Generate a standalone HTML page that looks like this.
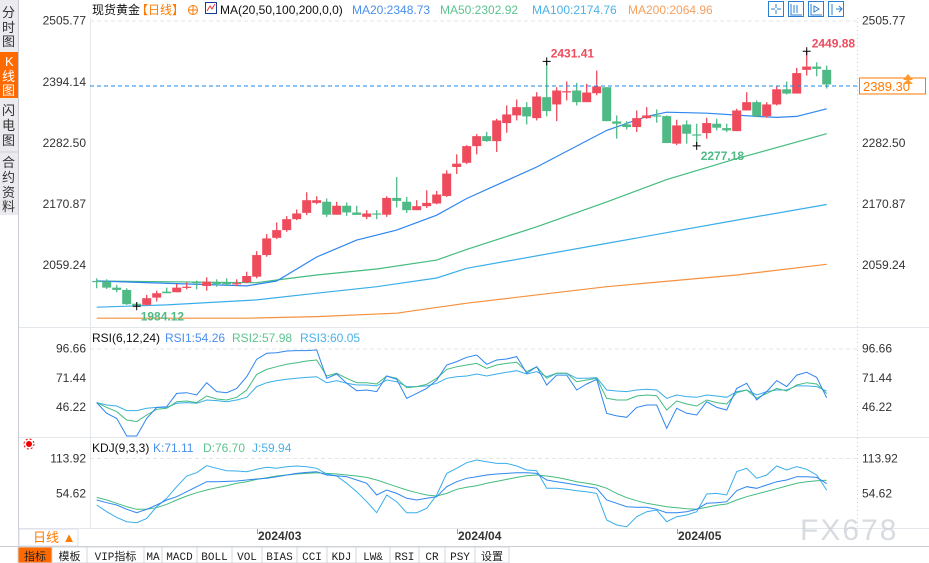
<!DOCTYPE html>
<html><head><meta charset="utf-8">
<style>
html,body{margin:0;padding:0;background:#fff;}
svg{display:block;font-family:"Liberation Sans","Noto Sans CJK SC",sans-serif;}
.ax{font-size:12px;fill:#333;}
.tb{font-family:"Liberation Mono","Noto Sans CJK SC",monospace;font-size:11px;fill:#222;}
</style></head>
<body>
<svg id="chart" width="929" height="563" viewBox="0 0 929 563" xmlns="http://www.w3.org/2000/svg">
  <g>
    <rect x="0" y="0" width="18" height="215" fill="#ebebef"/>
    <line x1="18.5" y1="0" x2="18.5" y2="546" stroke="#c8ccd2"/>
    <g font-size="13" fill="#333">
      <text x="2" y="17">分</text><text x="2" y="32">时</text><text x="2" y="46">图</text>
    </g>
    <rect x="0" y="52" width="18" height="46" fill="#ff6a00"/>
    <g font-size="13" fill="#fff"><text x="5" y="66">K</text><text x="2" y="81">线</text><text x="2" y="95">图</text></g>
    <g font-size="13" fill="#333">
      <text x="2" y="115">闪</text><text x="2" y="130">电</text><text x="2" y="145">图</text>
    </g>
    <line x1="0" y1="152" x2="18" y2="152" stroke="#d0d0d6"/>
    <g font-size="13" fill="#333">
      <text x="2" y="167">合</text><text x="2" y="182">约</text><text x="2" y="197">资</text><text x="2" y="211">料</text>
    </g>
  </g>
  <line x1="90.5" y1="18" x2="90.5" y2="528" stroke="#e3e6ea"/>
  <line x1="857.5" y1="18" x2="857.5" y2="528" stroke="#c9ccd0" stroke-dasharray="1,3"/>
  <line x1="19" y1="327.5" x2="929" y2="327.5" stroke="#e3e6ea"/>
  <line x1="19" y1="437.5" x2="929" y2="437.5" stroke="#e3e6ea"/>
  <line x1="19" y1="528.5" x2="929" y2="528.5" stroke="#e3e6ea"/>
  <line x1="90" y1="21" x2="857" y2="21" stroke="#e6e6e6" stroke-dasharray="4,3"/>
  <line x1="90" y1="349" x2="857" y2="349" stroke="#e6e6e6" stroke-dasharray="4,3"/>
  <line x1="90" y1="458.5" x2="857" y2="458.5" stroke="#e6e6e6" stroke-dasharray="4,3"/>

  <g font-size="12">
    <text x="92" y="14" fill="#111">现货黄金</text>
    <text x="136" y="14" fill="#ff7a00">【日线】</text>
    <g>
      <circle cx="193" cy="10" r="4.5" fill="none" stroke="#ff7a00"/>
      <line x1="188" y1="10" x2="198" y2="10" stroke="#ff7a00"/><line x1="193" y1="5" x2="193" y2="15" stroke="#ff7a00"/>
    </g>
    <g>
      <rect x="205.5" y="2.5" width="11" height="11" fill="#fff" stroke="#1a3c8c"/>
      <polyline points="207,11 210,6 212,9 215,4" fill="none" stroke="#e33" stroke-width="1"/>
    </g>
    <text x="220" y="14" fill="#111">MA(20,50,100,200,0,0)</text>
    <text x="352" y="14" fill="#4a8ff0">MA20:2348.73</text>
    <text x="440" y="14" fill="#5cc48e">MA50:2302.92</text>
    <text x="532" y="14" fill="#4ab2ea">MA100:2174.76</text>
    <text x="628" y="14" fill="#f5a060">MA200:2064.96</text>
  </g>
  <g fill="none" stroke="#2a7fd0">
    <rect x="768.5" y="1.5" width="15" height="15"/>
    <path d="M776 4v4M776 10v4M771 9h4M777 9h4"/>
    <rect x="788.5" y="1.5" width="15" height="15"/>
    <path d="M791 4v11h11M794 5v8M797 5v8"/>
    <rect x="808.5" y="1.5" width="15" height="15"/>
    <path d="M811 4v11h11M814 6l5 3-5 3z"/>
    <rect x="828.5" y="1.5" width="15" height="15"/>
    <path d="M832 4v11M836 9h6M839 6l3 3-3 3"/>
  </g>

  <g id="axes"></g>
  <g id="mas"></g>
  <g id="candles"></g>
  <g id="ind"></g>
  <g id="marks"></g>

  <g font-size="12">
    <text x="92" y="342" fill="#111">RSI(6,12,24)</text>
    <text x="165" y="342" fill="#4a8ff0">RSI1:54.26</text>
    <text x="232" y="342" fill="#5cc48e">RSI2:57.98</text>
    <text x="300" y="342" fill="#4ab2ea">RSI3:60.05</text>
  </g>
  <g>
    <circle cx="29" cy="444" r="3" fill="#e00"/><circle cx="29" cy="444" r="5" fill="none" stroke="#e00" stroke-dasharray="2,2"/>
  </g>
  <g font-size="12">
    <text x="92" y="452" fill="#111">KDJ(9,3,3)</text>
    <text x="153" y="452" fill="#4a8ff0">K:71.11</text>
    <text x="203" y="452" fill="#5cc48e">D:76.70</text>
    <text x="252" y="452" fill="#4ab2ea">J:59.94</text>
  </g>

  <g>
    <rect x="19" y="529" width="59" height="17" fill="#fff" stroke="#dde"/>
    <text x="33" y="542" font-size="13" fill="#ff7a00">日线 ▲</text>
    <line x1="257.5" y1="529" x2="257.5" y2="534" stroke="#999"/>
    <text x="258" y="540" font-size="12" font-weight="bold" fill="#333">2024/03</text>
    <line x1="457.5" y1="529" x2="457.5" y2="534" stroke="#999"/>
    <text x="458" y="540" font-size="12" font-weight="bold" fill="#333">2024/04</text>
    <line x1="677.5" y1="529" x2="677.5" y2="534" stroke="#999"/>
    <text x="678" y="540" font-size="12" font-weight="bold" fill="#333">2024/05</text>
  </g>
  <text x="800" y="540" font-size="30" fill="#c8ccd2" opacity="0.7" letter-spacing="2">FX678</text>

  <g id="toolbar">
    <line x1="0" y1="546.5" x2="929" y2="546.5" stroke="#c8ccd2"/>
  </g>
</svg>
<script>
const opens  = [2030.4,2029.1,2018.2,2014.0,1988.9,1986.7,2000.0,2010.9,2009.8,2019.3,2028.6,2021.3,2027.7,2027.7,2025.8,2028.0,2038.2,2077.7,2109.2,2123.3,2143.3,2154.8,2173.0,2175.1,2151.4,2167.8,2155.5,2147.5,2153.7,2151.4,2182.1,2175.1,2159.7,2167.0,2171.9,2185.7,2238.6,2246.3,2276.7,2294.9,2285.8,2318.8,2332.8,2347.9,2327.8,2366.1,2352.8,2376.5,2378.3,2357.0,2373.3,2384.3,2321.8,2316.3,2311.5,2327.8,2332.8,2331.5,2281.2,2316.3,2298.1,2300.5,2317.6,2309.6,2304.1,2341.8,2357.0,2331.5,2352.8,2380.5,2372.7,2416.0,2422.0,2416.0];
const highs  = [2035.2,2033.4,2023.3,2017.1,1992.0,2004.9,2012.7,2018.2,2024.9,2027.7,2031.0,2037.1,2033.4,2035.2,2033.4,2047.3,2085.0,2115.9,2137.3,2148.8,2161.0,2192.5,2185.2,2181.0,2175.1,2173.7,2167.8,2159.7,2159.7,2185.2,2220.3,2183.9,2177.9,2196.1,2194.8,2232.5,2261.7,2278.5,2298.6,2302.7,2326.7,2351.0,2361.9,2357.0,2375.2,2431.41,2384.3,2394.7,2392.3,2390.5,2414.7,2384.3,2332.8,2322.3,2341.8,2347.9,2343.7,2332.8,2324.9,2323.6,2317.6,2328.5,2326.7,2317.6,2344.9,2375.2,2360.1,2357.0,2386.5,2394.7,2419.6,2449.88,2429.8,2423.8];
const lows   = [2017.1,2015.8,2009.8,1986.7,1984.12,1985.6,1992.9,2008.0,2009.8,2015.2,2015.2,2012.7,2019.9,2021.7,2021.3,2026.2,2035.2,2074.6,2106.9,2120.2,2141.5,2150.6,2170.6,2147.5,2151.4,2149.3,2151.1,2143.3,2143.3,2147.5,2164.6,2154.8,2159.7,2163.9,2170.6,2183.9,2225.7,2243.9,2261.7,2284.6,2265.9,2301.2,2323.7,2316.3,2323.6,2331.0,2322.3,2360.1,2351.0,2357.0,2369.6,2322.3,2290.3,2307.2,2302.3,2326.7,2319.4,2282.3,2278.5,2281.2,2277.18,2290.3,2305.4,2302.3,2304.1,2341.8,2329.6,2328.5,2351.0,2371.0,2372.7,2405.6,2404.3,2381.8];
const closes = [2029.5,2018.2,2014.0,1988.0,1985.8,1998.9,2008.0,2008.0,2018.2,2019.9,2028.0,2029.1,2024.9,2024.4,2026.4,2039.5,2077.7,2108.1,2123.3,2143.3,2153.7,2177.9,2177.9,2151.4,2167.8,2155.6,2151.1,2153.7,2153.1,2182.1,2176.6,2159.7,2167.0,2173.0,2188.3,2226.5,2244.7,2276.7,2294.9,2285.8,2323.6,2334.6,2347.9,2331.0,2367.3,2340.6,2378.3,2377.0,2357.0,2374.6,2385.6,2322.3,2317.6,2311.5,2327.8,2332.8,2332.2,2282.3,2314.5,2299.4,2297.2,2318.8,2310.3,2305.4,2341.8,2357.0,2331.5,2352.8,2380.5,2372.7,2410.1,2422.0,2417.8,2389.30];
const ma20Idx = [0,15,18,22,26,30,34,37,44,51,55,57,61,66,68,70,73];
const ma20Val = [2030.4,2021.3,2030.4,2074.1,2105.0,2123.3,2150.6,2181.0,2238.6,2305.4,2330.9,2338.7,2336.9,2330.9,2329.1,2330.9,2344.9];
const ma50Idx = [0,16,18,22,28,34,37,44,51,57,64,73];
const ma50Val = [2030.4,2027.3,2032.2,2041.3,2052.2,2068.6,2088.1,2129.3,2174.8,2215.6,2253.9,2299.4];
const ma100Idx = [0,7,16,22,28,34,37,51,64,73];
const ma100Val = [1982.4,1986.6,1995.8,2008.0,2020.0,2035.8,2053.5,2099.0,2141.5,2170.1];
const ma200Idx = [0,15,22,30,37,51,64,73];
const ma200Val = [1962.4,1962.4,1965.3,1971.5,1989.7,2020.0,2041.3,2060.8];
const rsi1 = [50.1,40.9,36.5,21.3,21.3,36.5,46.0,46.6,58.1,58.7,56.7,67.3,59.6,58.7,62.4,72.5,87.5,92.7,93.2,94.7,95.0,95.0,95.5,71.1,74.8,66.8,60.4,61.0,59.6,73.1,70.2,53.8,58.1,62.4,69.6,82.6,85.5,89.2,91.2,83.2,86.9,87.8,89.8,75.4,81.1,65.3,73.9,73.9,61.0,66.2,70.2,40.9,38.6,37.4,46.0,48.0,48.0,27.9,45.2,40.9,39.4,50.9,46.0,43.7,62.4,66.8,52.4,59.6,69.1,63.9,73.9,76.3,71.9,54.26];
const rsi2 = [50.1,46.0,42.3,35.1,33.7,39.4,44.3,45.2,50.9,51.5,50.1,55.8,53.2,52.4,54.7,61.0,74.5,78.8,81.1,83.2,84.6,86.0,86.9,73.1,75.4,71.1,67.3,67.3,66.2,73.1,71.1,63.0,63.9,65.9,71.1,78.8,81.1,82.6,84.0,79.7,82.6,84.0,84.9,76.8,81.1,71.1,75.4,75.4,68.2,69.6,71.1,53.8,52.4,52.4,55.8,56.7,56.1,43.7,51.5,48.9,47.2,52.4,50.1,48.9,58.7,61.0,53.8,58.1,62.4,60.1,65.3,67.3,66.2,57.98];
const rsi3 = [50.1,48.0,47.2,43.2,43.2,45.2,46.0,46.0,49.5,50.1,49.5,52.4,51.8,50.9,52.4,54.7,63.9,67.3,69.1,70.2,71.1,71.9,72.5,67.3,69.1,66.8,65.3,65.3,64.5,69.6,68.2,63.9,63.9,64.5,66.8,71.1,72.5,73.1,74.8,73.1,74.8,76.3,77.7,74.8,76.8,72.5,75.4,75.4,71.1,71.1,71.6,61.0,60.1,59.6,61.0,61.6,61.0,53.8,56.7,55.3,54.7,56.7,55.8,54.7,59.6,61.0,56.7,59.6,61.0,61.0,64.5,64.5,63.9,60.05];
const rsiTicks = [96.66,71.44,46.22];
const kdjK = [43.2,38.7,34.7,27.4,21.7,27.4,34.7,43.2,48.9,57.3,65.8,74.3,74.3,74.8,75.4,77.1,78.8,80.0,82.8,85.6,88.4,90.1,91.2,85.6,84.5,82.8,77.1,71.5,51.7,60.2,54.5,46.1,43.2,46.1,48.9,65.8,74.3,80.0,82.8,85.6,87.3,88.4,89.5,89.5,88.4,77.1,74.3,71.5,68.6,65.8,63.0,43.2,37.6,31.9,30.8,30.8,27.4,21.7,21.7,23.4,27.4,37.6,38.7,40.4,59.0,65.8,63.0,68.6,74.3,77.1,82.8,82.8,81.6,71.11];
const kdjD = [47.7,43.2,37.6,31.9,27.4,27.4,30.2,35.9,43.2,50.0,55.6,60.2,64.1,67.5,71.5,74.3,78.2,81.1,83.9,85.6,87.3,88.4,89.5,88.4,87.3,85.6,83.9,81.6,77.1,71.5,65.8,60.2,55.6,51.7,50.0,54.5,61.3,64.7,67.5,71.5,74.8,78.2,81.6,84.5,85.6,83.9,81.6,78.2,74.3,71.5,68.6,63.0,54.5,47.2,42.1,37.6,34.7,31.9,30.2,28.5,27.4,30.8,34.2,36.4,43.2,48.9,53.4,57.9,62.4,66.9,71.5,74.3,76.0,76.70];
const kdjJ = [34.7,23.4,13.8,6.5,4.8,12.1,31.9,46.1,65.8,83.9,89.5,101.4,96.9,92.9,92.4,91.2,95.2,98.6,96.9,99.7,100.8,99.7,96.9,87.3,83.9,71.5,57.3,40.4,21.7,51.7,40.4,21.7,21.7,29.1,51.7,88.4,96.9,106.5,111.0,108.2,105.3,105.3,100.8,94.1,92.9,63.0,63.0,61.3,59.0,57.3,54.5,9.3,0.8,-2.0,15.0,23.4,26.3,6.5,15.0,17.8,23.4,53.4,54.5,51.7,91.2,96.9,80.0,85.6,100.8,94.1,99.7,95.2,85.6,59.94];
const kdjTicks = [113.92,54.62];
const priceTicks = [2505.77,2394.14,2282.50,2170.87,2059.24];

const NS = "http://www.w3.org/2000/svg";
function mk(tag, attrs, parent) {
  const e = document.createElementNS(NS, tag);
  for (const k in attrs) e.setAttribute(k, attrs[k]);
  parent.appendChild(e);
  return e;
}
const xAt = i => 96.7 + 10 * i;
const yP = p => 20.7 + (2505.77 - p) * 0.5475;
const yR = v => 348.7 + (96.66 - v) * 1.158;
const yK = v => 458.3 + (113.92 - v) * 0.590;

const axes = document.getElementById('axes');
function ticks(list, yf, nm) {
  list.forEach(t => {
    const y = yf(t);
    const l = mk('text', {x: 86, y: y + 4, 'text-anchor': 'end', class: 'ax'}, axes);
    l.textContent = t.toFixed(2);
    
    
    const r = mk('text', {x: 862, y: y + 4, class: 'ax'}, axes);
    r.textContent = t.toFixed(2);
    
    
  });
}
ticks(priceTicks, yP, 'price');
ticks(rsiTicks, yR, 'rsi');
ticks(kdjTicks, yK, 'kdj');

const mas = document.getElementById('mas');
function maLine(idx, vals, color, name) {
  const pts = idx.map((i, k) => xAt(i).toFixed(1) + ',' + yP(vals[k]).toFixed(1)).join(' ');
  const pl = mk('polyline', {points: pts, fill: 'none', stroke: color, 'stroke-width': 1.2}, mas);
  
  
}
maLine(ma200Idx, ma200Val, '#f5913f', 'ma200-line');
maLine(ma100Idx, ma100Val, '#3aaeea', 'ma100-line');
maLine(ma50Idx, ma50Val, '#44bb7f', 'ma50-line');
maLine(ma20Idx, ma20Val, '#2f86f0', 'ma20-line');

const cg = document.getElementById('candles');
opens.forEach((o, i) => {
  const c = closes[i], up = c >= o;
  const col = up ? '#ee4b5c' : '#4fba86';
  const x = xAt(i);
  const g = mk('g', {}, cg);
  
  
  mk('line', {x1: x, x2: x, y1: yP(highs[i]), y2: yP(lows[i]), stroke: col, 'stroke-width': 1.3}, g);
  const top = yP(Math.max(o, c)), bot = yP(Math.min(o, c));
  mk('rect', {x: x - 4.5, y: top, width: 9, height: Math.max(1.2, bot - top), fill: col}, g);
});

const lastY = yP(closes[closes.length - 1]) + 1.5;
const ln = mk('line', {x1: 90, x2: 858, y1: lastY, y2: lastY, stroke: '#1e88e5', 'stroke-dasharray': '4,3'}, cg);


const lb = mk('rect', {x: 859.5, y: lastY - 8, width: 66, height: 16, fill: '#fff', stroke: '#ff7a00'}, cg);


const lt = mk('text', {x: 863, y: lastY + 5, 'font-size': 13, fill: '#ff7a00'}, cg);
lt.textContent = closes[closes.length - 1].toFixed(2);


mk('path', {d: 'M903 80 l5 -6 l5 6 z M903 84 l5 -5 l5 5 z', fill: '#ff9a30'}, cg);

const marks = document.getElementById('marks');
function markAt(i, val, up, color, dx, name) {
  const x = xAt(i), y = yP(val);
  mk('path', {d: `M${x-4} ${y}h8M${x} ${y-4}v8`, stroke: '#000', 'stroke-width': 1}, marks);
  const t = mk('text', {x: x + dx, y: up ? y - 4 : y + 14, 'font-size': 12, 'font-weight': 'bold', fill: color}, marks);
  t.textContent = val.toFixed(2);
  
  
}
markAt(45, highs[45], true, '#ee4b5c', 4, 'local-high-label');
markAt(71, highs[71], true, '#ee4b5c', 5, 'period-high-label');
markAt(60, lows[60], false, '#4fba86', 4, 'local-low-label');
markAt(4, lows[4], false, '#4fba86', 4, 'period-low-label');

const ind = document.getElementById('ind');
function seriesLine(vals, yf, color, name) {
  const pts = vals.map((v, i) => xAt(i).toFixed(1) + ',' + yf(v).toFixed(1)).join(' ');
  const pl = mk('polyline', {points: pts, fill: 'none', stroke: color, 'stroke-width': 1}, ind);
  
  
}
seriesLine(rsi3, yR, '#3aaeea', 'rsi3-line');
seriesLine(rsi2, yR, '#44bb7f', 'rsi2-line');
seriesLine(rsi1, yR, '#2f86f0', 'rsi1-line');
seriesLine(kdjD, yK, '#44bb7f', 'kdj-d-line');
seriesLine(kdjJ, yK, '#3aaeea', 'kdj-j-line');
seriesLine(kdjK, yK, '#2f86f0', 'kdj-k-line');

const tb = document.getElementById('toolbar');
const btnLabels = ['指标','模板','VIP指标','MA','MACD','BOLL','VOL','BIAS','CCI','KDJ','LW&','RSI','CR','PSY','设置'];
const btnEdges = [18,52,87,144,162,197,232,262,297,327,356,390,419,445,475,509];
btnLabels.forEach((lab, k) => {
  const x0 = btnEdges[k], x1 = btnEdges[k + 1];
  const g = mk('g', {}, tb);
  
  
  mk('rect', {x: x0, y: 547, width: x1 - x0, height: 16, fill: k === 0 ? '#ff6a00' : '#fff', stroke: '#d4d7dc'}, g);
  const t = mk('text', {x: (x0 + x1) / 2, y: 560, 'text-anchor': 'middle', class: 'tb', fill: k === 0 ? '#fff' : (k === 2 ? '#ff7a00' : '#222')}, g);
  t.textContent = lab;
});
</script>
</body></html>
